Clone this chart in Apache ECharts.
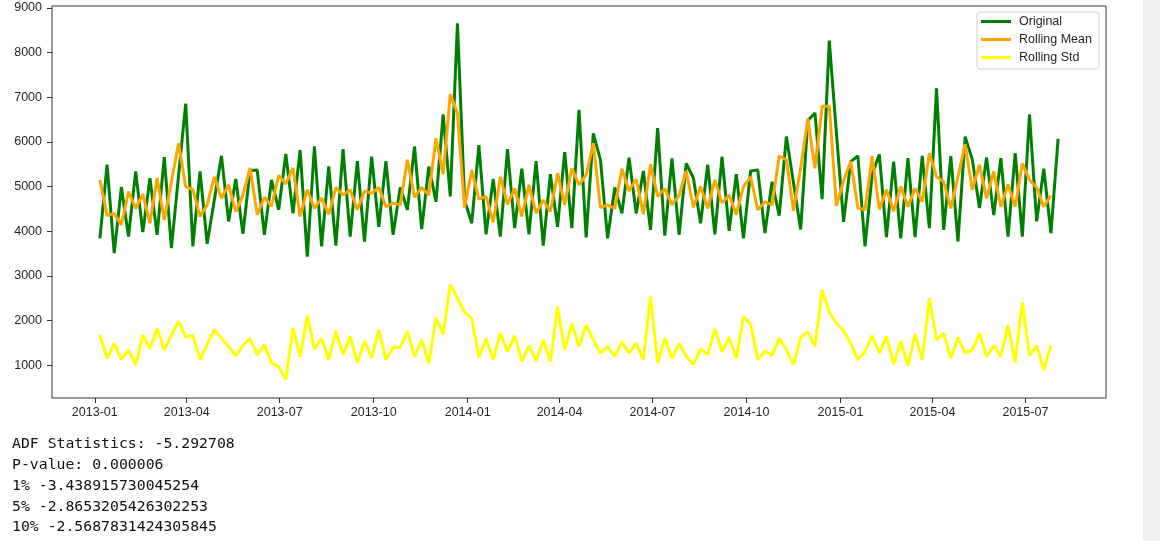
<!DOCTYPE html>
<html>
<head>
<meta charset="utf-8">
<script src="https://cdn.jsdelivr.net/npm/echarts@6/dist/echarts.min.js"></script>
<style>
  html, body { margin: 0; padding: 0; background: #fff; }
  #chart { position: absolute; left: 0; top: 0; width: 1160px; height: 541px; }
  #bar { position: absolute; left: 1143px; top: 0; width: 17px; height: 541px; background: #f0f0f0; }
</style>
</head>
<body>
<div id="chart"></div>
<div id="bar"></div>
<script>
// weekly sales (week ending Sunday), first week 2013-01-06
const firstWeek = [2013, 0, 6]

const original = [
  3840,5490,3510,4990,3880,5340,3980,5190,3920,5660,
  3620,5250,6860,3660,5340,3720,4700,5690,4220,5170,
  3940,5360,5370,3920,5150,4480,5730,4400,5820,3430,
  5900,3660,5450,3680,5840,3880,5570,3770,5670,4100,
  5570,3920,4980,4480,5900,4050,5450,4660,6620,4780,
  8660,4700,4180,5930,3930,5170,3880,5840,4070,5400,
  3930,5570,3680,5280,4100,5770,4070,6720,3860,6190,
  5600,3840,4980,4400,5650,4400,5350,4030,6310,3900,
  5630,3920,5520,5190,4180,5490,3930,5670,4010,5280,
  3840,5350,5370,3960,5110,4350,6120,5080,4040,6480,
  6650,4720,8270,6200,4210,5560,5690,3660,5280,5720,
  3870,5560,3840,5640,3870,5690,4070,7200,4030,5680,
  3770,6120,5610,4520,5650,4360,5640,3880,5750,3880,
  6620,4220,5400,3960,6070
]

const rollingMean = [
  5150,4350,4400,4140,4890,4510,4830,4180,5190,4250,
  5110,5970,5000,4930,4330,4590,5220,4740,5040,4440,
  4810,5420,4370,4760,4560,5250,5060,5420,4330,4930,
  4510,4740,4380,4980,4810,4930,4480,4900,4850,4980,
  4550,4630,4590,5600,4760,4980,4810,6080,5280,7070,
  6640,4530,5370,4720,4780,4200,5220,4600,4960,4330,
  5040,4400,4700,4440,5300,4590,5410,5040,5260,5970,
  4530,4590,4510,5400,4900,5170,4380,5500,4780,4950,
  4590,4800,5350,4530,5000,4510,5150,4630,4810,4370,
  5000,5220,4480,4660,4590,5690,5600,4460,5420,6520,
  5410,6800,6800,4570,5130,5570,4520,4480,5680,4490,
  4930,4450,5000,4550,4960,4660,5750,5220,5110,4510,
  5220,5950,4930,5490,4740,5340,4550,5050,4550,5520,
  5150,4980,4550,4800
]

const rollingStd = [
  1680,1150,1490,1130,1340,1010,1680,1370,1820,1340,
  1680,1980,1630,1670,1120,1460,1800,1600,1420,1210,
  1440,1600,1230,1455,1045,970,680,1840,1190,2110,
  1365,1600,1120,1770,1230,1640,1045,1545,1155,1790,
  1120,1395,1395,1750,1190,1570,1045,2065,1690,2810,
  2500,2185,2050,1170,1600,1120,1715,1305,1660,1080,
  1440,1095,1570,1080,2310,1345,1940,1415,1900,1565,
  1270,1415,1195,1515,1270,1490,1120,2540,1045,1605,
  1155,1490,1195,1020,1365,1230,1810,1305,1620,1155,
  2090,1915,1120,1320,1215,1605,1345,1020,1620,1750,
  1415,2685,2185,1940,1770,1490,1120,1305,1660,1270,
  1640,1020,1530,990,1690,1120,2500,1565,1715,1155,
  1620,1270,1345,1715,1195,1440,1195,1900,1065,2410,
  1215,1440,895,1440
]

const tickLabels = ['2013-01','2013-04','2013-07','2013-10','2014-01','2014-04',
  '2014-07','2014-10','2015-01','2015-04','2015-07']
const yTicks = [1000, 2000, 3000, 4000, 5000, 6000, 7000, 8000, 9000]

const adfLines = [
  'ADF Statistics: -5.292708',
  'P-value: 0.000006',
  '1% -3.438915730045254',
  '5% -2.8653205426302253',
  '10% -2.5687831424305845'
]

const DAY = 86400000
const t0 = Date.UTC(firstWeek[0], firstWeek[1], firstWeek[2])
const dates = original.map((_, i) => t0 + i * 7 * DAY)
const tickTimes = tickLabels.map(s => Date.UTC(+s.slice(0, 4), +s.slice(5) - 1, 1))

// matplotlib style 5% margins
const span = dates[dates.length - 1] - dates[0]
const xMin = dates[0] - span * 0.05
const xMax = dates[dates.length - 1] + span * 0.05

const tickFont = { fontFamily: 'Liberation Sans, Arial, sans-serif', fontSize: 12.5, color: '#262626' }

const chart = echarts.init(document.getElementById('chart'))
chart.setOption({
  animation: false,
  grid: {
    left: 52, right: 54, top: 6, bottom: 143,
    show: true, borderColor: '#333', borderWidth: 1, backgroundColor: '#fff'
  },
  legend: {
    left: 977, top: 12,
    orient: 'vertical',
    icon: 'rect',
    itemWidth: 30, itemHeight: 3, itemGap: 5,
    padding: [3, 7, 5, 4],
    borderColor: '#d0d0d0', borderWidth: 1, borderRadius: 3,
    backgroundColor: 'rgba(255,255,255,0.8)',
    textStyle: { fontFamily: 'Liberation Sans, Arial, sans-serif', fontSize: 12.5, color: '#262626', padding: [0, 0, 0, 3] },
    data: ['Original', 'Rolling Mean', 'Rolling Std']
  },
  xAxis: {
    type: 'value',
    min: xMin, max: xMax,
    axisLine: { show: false },
    axisTick: { show: true, length: 5, customValues: tickTimes, lineStyle: { color: '#333' } },
    axisLabel: Object.assign({
      customValues: tickTimes, margin: 8,
      formatter: v => tickLabels[tickTimes.indexOf(v)] || ''
    }, tickFont),
    splitLine: { show: false }
  },
  yAxis: {
    type: 'value',
    min: 265, max: 9045,
    axisLine: { show: false },
    axisTick: { show: true, length: 5, customValues: yTicks, lineStyle: { color: '#333' } },
    axisLabel: Object.assign({ customValues: yTicks, margin: 10, formatter: v => String(v) }, tickFont),
    splitLine: { show: false }
  },
  series: [
    {
      name: 'Original', type: 'line', showSymbol: false,
      color: '#008000', lineStyle: { width: 3 },
      data: original.map((v, i) => [dates[i], v])
    },
    {
      name: 'Rolling Mean', type: 'line', showSymbol: false,
      color: '#ffa500', lineStyle: { width: 3 },
      data: rollingMean.map((v, i) => [dates[i], v])
    },
    {
      name: 'Rolling Std', type: 'line', showSymbol: false,
      color: '#ffff00', lineStyle: { width: 3 },
      data: rollingStd.map((v, i) => [dates[i], v])
    }
  ],
  graphic: [{
    type: 'text', left: 12, top: 434,
    style: {
      text: adfLines.join('\n'),
      font: '14.8px "DejaVu Sans Mono", "Liberation Mono", monospace',
      lineHeight: 20.8,
      fill: '#111'
    }
  }]
})
</script>
</body>
</html>
